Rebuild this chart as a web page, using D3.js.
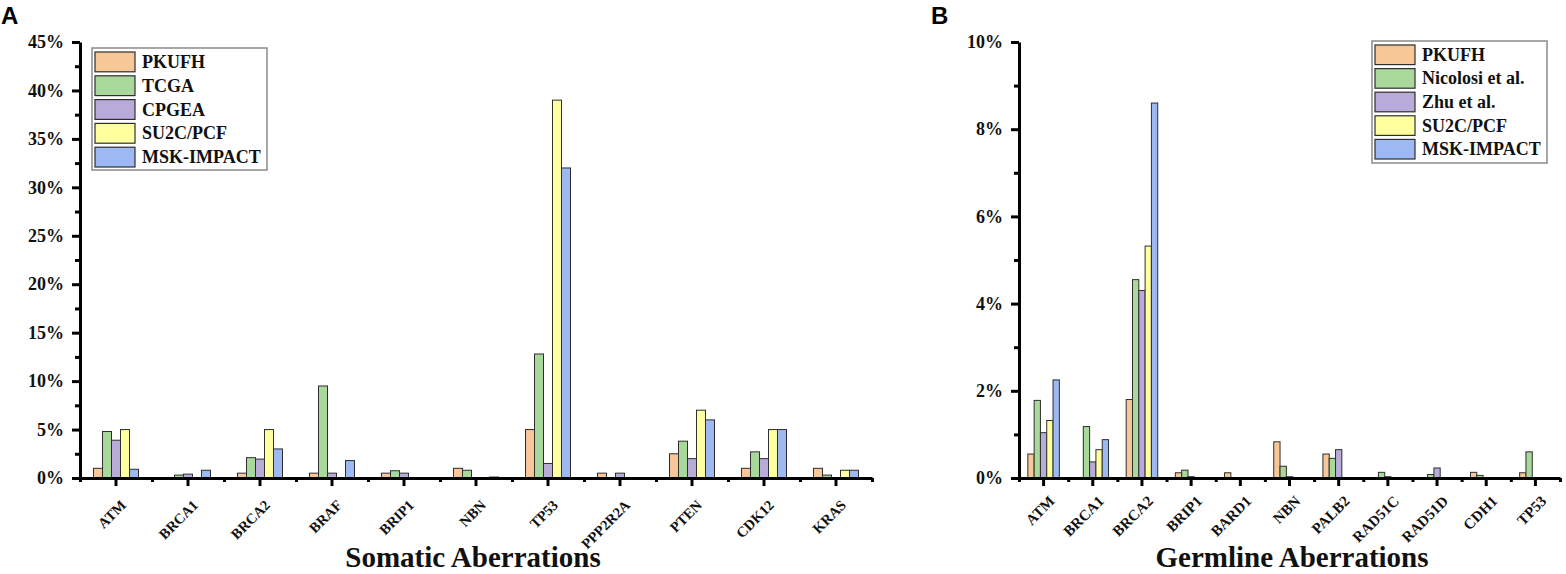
<!DOCTYPE html>
<html>
<head>
<meta charset="utf-8">
<script src="https://cdn.jsdelivr.net/npm/d3@7"></script>
<style>
  html, body { margin: 0; padding: 0; background: #fff; }
  svg { display: block; }
</style>
</head>
<body>
<svg id="chart" width="1566" height="574"></svg>
<script>
// ---------- Panel A: somatic ----------
const somaticGenes = ["ATM","BRCA1","BRCA2","BRAF","BRIP1","NBN","TP53","PPP2R2A","PTEN","CDK12","KRAS"];
const somaticSeries = ["PKUFH","TCGA","CPGEA","SU2C/PCF","MSK-IMPACT"];
const somaticPKUFH = [1.0, 0,   0.5,  0.5, 0.5,  1.0, 5.0,  0.5, 2.5, 1.0, 1.0];
const somaticTCGA  = [4.8, 0.3, 2.1,  9.5, 0.75, 0.8, 12.8, 0,   3.8, 2.7, 0.3];
const somaticCPGEA = [3.9, 0.4, 1.95, 0.5, 0.5,  0,   1.5,  0.5, 2.0, 2.0, 0];
const somaticSU2C  = [5.0, 0,   5.0,  0,   0,    0,   39.0, 0,   7.0, 5.0, 0.8];
const somaticMSK   = [0.9, 0.8, 3.0,  1.8, 0,    0.1, 32.0, 0,   6.0, 5.0, 0.8];
const somaticTicks = ["0%","5%","10%","15%","20%","25%","30%","35%","40%","45%"];

// ---------- Panel B: germline ----------
const germGenes = ["ATM","BRCA1","BRCA2","BRIP1","BARD1","NBN","PALB2","RAD51C","RAD51D","CDH1","TP53"];
const germSeries = ["PKUFH","Nicolosi et al.","Zhu et al.","SU2C/PCF","MSK-IMPACT"];
const germPKUFH    = [0.55, 0,    1.8,  0.12, 0.12, 0.83, 0.55, 0,    0,    0.13, 0.12];
const germNicolosi = [1.78, 1.18, 4.55, 0.18, 0,    0.27, 0.45, 0.13, 0.08, 0.06, 0.6];
const germZhu      = [1.04, 0.37, 4.3,  0.03, 0,    0.03, 0.65, 0.03, 0.23, 0,    0];
const germSU2C     = [1.32, 0.65, 5.32, 0,    0,    0,    0,    0,    0,    0,    0];
const germMSK      = [2.25, 0.88, 8.6,  0,    0,    0,    0,    0,    0,    0,    0];
const germTicks = ["0%","2%","4%","6%","8%","10%"];

const colors = ["#F7C797","#A9D89B","#B8ABDA","#FFFF9F","#9DB8F2"];
const SERIF = '"Liberation Serif", "Times New Roman", serif';

const svg = d3.select("#chart");

function serifText(sel, size) {
  return sel.style("font-family", SERIF).style("font-weight", "bold")
    .style("font-size", size + "px").attr("fill", "#111");
}

function panel(opts) {
  const g = svg.append("g");
  const {genes, series, values, tickLabels, yMax, yStep, yMinor, left, right, top, bottom,
         xLabelAngle, xLabelSize, xLabelDx, xLabelDy, barOuterPad, legend, title, titleX, letter, letterX} = opts;

  const x0 = d3.scaleBand().domain(genes).range([left, right]).padding(0);
  const x1 = d3.scaleBand().domain(series).range([0, x0.bandwidth()])
    .paddingInner(0).paddingOuter(barOuterPad);
  const y = d3.scaleLinear().domain([0, yMax]).range([bottom, top]);
  const color = d3.scaleOrdinal().domain(series).range(colors);

  // bars
  const rows = [];
  genes.forEach((gname, i) => series.forEach((s, j) => {
    if (values[j][i] > 0) rows.push({gene: gname, series: s, v: values[j][i]});
  }));
  g.append("g").selectAll("rect").data(rows).join("rect")
    .attr("x", d => x0(d.gene) + x1(d.series))
    .attr("width", x1.bandwidth())
    .attr("y", d => y(d.v))
    .attr("height", d => y(0) - y(d.v))
    .attr("fill", d => color(d.series))
    .attr("stroke", "#2e2e2e")
    .attr("stroke-width", 1);

  // y axis major
  const majorVals = d3.range(0, yMax + 1e-9, yStep);
  const yAxis = d3.axisLeft(y).tickValues(majorVals)
    .tickFormat((d, i) => tickLabels[i]).tickSize(8).tickSizeOuter(0).tickPadding(8);
  const ya = g.append("g").attr("transform", `translate(${left},0)`).call(yAxis);
  ya.attr("font-family", null).attr("font-size", null);
  ya.select(".domain").attr("stroke", "#000").attr("stroke-width", 3);
  ya.selectAll(".tick line").attr("stroke", "#000").attr("stroke-width", 3);
  serifText(ya.selectAll(".tick text"), 18);
  // y axis minor
  const minorVals = d3.range(yMinor, yMax, yStep);
  const yMinorAxis = d3.axisLeft(y).tickValues(minorVals).tickFormat("").tickSize(5).tickSizeOuter(0);
  const ym = g.append("g").attr("transform", `translate(${left},0)`).call(yMinorAxis);
  ym.select(".domain").remove();
  ym.selectAll(".tick line").attr("stroke", "#000").attr("stroke-width", 3);

  // x axis major (band centres)
  const xAxis = d3.axisBottom(x0).tickSize(8).tickSizeOuter(0).tickFormat("");
  const xa = g.append("g").attr("transform", `translate(0,${bottom})`).call(xAxis);
  xa.select(".domain").attr("stroke", "#000").attr("stroke-width", 3);
  xa.selectAll(".tick line").attr("stroke", "#000").attr("stroke-width", 3);
  // x axis minor (band boundaries)
  const xi = d3.scaleLinear().domain([0, genes.length]).range([left, right]);
  const xMinorAxis = d3.axisBottom(xi).tickValues(d3.range(0, genes.length + 1)).tickFormat("").tickSize(4).tickSizeOuter(0);
  const xm = g.append("g").attr("transform", `translate(0,${bottom})`).call(xMinorAxis);
  xm.select(".domain").remove();
  xm.selectAll(".tick line").attr("stroke", "#000").attr("stroke-width", 3);

  // x labels rotated
  serifText(g.append("g").selectAll("text").data(genes).join("text"), xLabelSize)
    .attr("text-anchor", "end")
    .attr("transform", d => `translate(${x0(d) + x0.bandwidth() / 2 + xLabelDx},${bottom + xLabelDy}) rotate(${xLabelAngle})`)
    .text(d => d);

  // title
  serifText(g.append("text"), 29)
    .attr("text-anchor", "middle").attr("x", titleX).attr("y", 567).text(title);

  // panel letter
  g.append("text").attr("x", letterX).attr("y", 24)
    .style("font-family", '"Liberation Sans", Arial, sans-serif').style("font-weight", "bold")
    .style("font-size", "24px").attr("fill", "#000").text(letter);

  // legend
  const lg = g.append("g");
  lg.append("rect").attr("x", legend.x).attr("y", legend.y).attr("width", legend.w).attr("height", legend.h)
    .attr("fill", "#fff").attr("stroke", "#8a8a8a").attr("stroke-width", 1.5);
  const items = lg.selectAll("g.item").data(series).join("g").attr("class", "item")
    .attr("transform", (d, i) => `translate(${legend.x + 3},${legend.y + 4 + i * legend.step})`);
  items.append("rect").attr("width", 40).attr("height", legend.step - 4)
    .attr("fill", d => color(d)).attr("stroke", "#2e2e2e").attr("stroke-width", 1.2);
  serifText(items.append("text"), 18)
    .attr("x", 47).attr("y", legend.step / 2 + 4).text(d => d);
}

panel({
  genes: somaticGenes, series: somaticSeries,
  values: [somaticPKUFH, somaticTCGA, somaticCPGEA, somaticSU2C, somaticMSK],
  tickLabels: somaticTicks, yMax: 45, yStep: 5, yMinor: 2.5,
  left: 80, right: 872, top: 42, bottom: 478,
  xLabelAngle: -45, xLabelSize: 14.5, xLabelDx: 11, xLabelDy: 28, barOuterPad: 1.5,
  legend: {x: 92, y: 48, w: 175, h: 122, step: 23.8},
  title: "Somatic Aberrations", titleX: 473, letter: "A", letterX: 1
});

panel({
  genes: germGenes, series: germSeries,
  values: [germPKUFH, germNicolosi, germZhu, germSU2C, germMSK],
  tickLabels: germTicks, yMax: 10, yStep: 2, yMinor: 1,
  left: 1019, right: 1560, top: 42, bottom: 478,
  xLabelAngle: -45, xLabelSize: 15, xLabelDx: 12, xLabelDy: 24, barOuterPad: 1.4,
  legend: {x: 1372, y: 41, w: 175, h: 122, step: 23.6},
  title: "Germline Aberrations", titleX: 1292, letter: "B", letterX: 931
});
</script>
</body>
</html>
